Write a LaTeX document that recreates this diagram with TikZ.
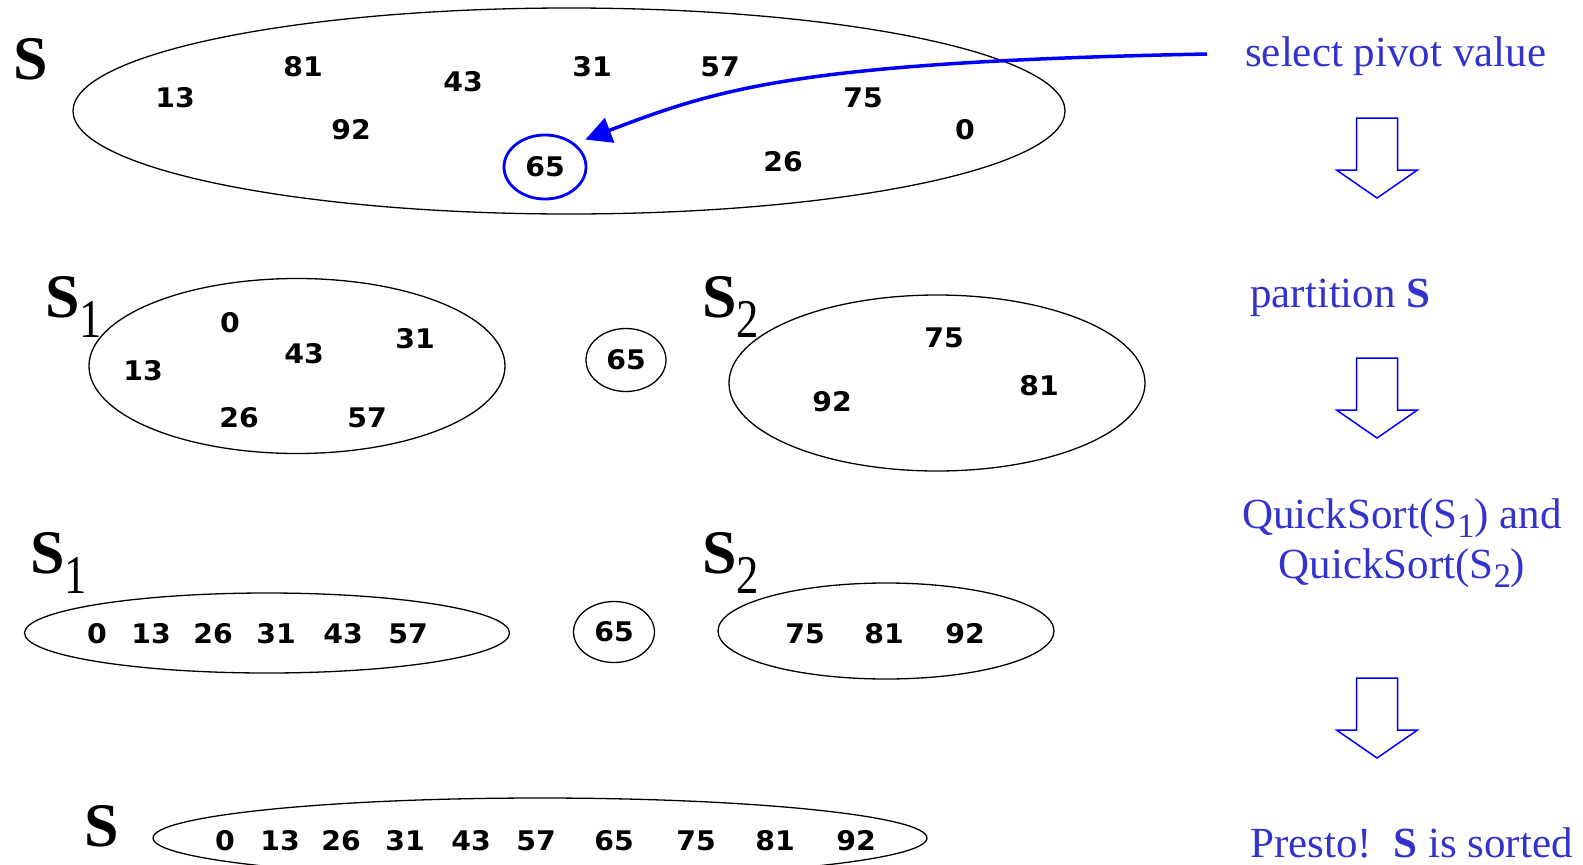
\documentclass[tikz,border=0pt]{standalone}
\usepackage{fontspec}
\setmainfont{Liberation Serif}
\newfontfamily\numfont[FakeStretch=1.05]{DejaVu Sans}
\usetikzlibrary{shapes.geometric,arrows.meta}
\definecolor{noteblue}{RGB}{51,51,204}
\definecolor{pivotblue}{RGB}{0,0,255}
% set name with lowered index, index in the picture is nearly as big as the S
\newcommand{\setsub}[1]{\textbf{S}\raisebox{-20pt}{\scalebox{0.72}[0.88]{#1}}}
% index in the blue notes
\newcommand{\notesub}[1]{\raisebox{-0.23em}{\scalebox{0.8}{#1}}}
\tikzset{
  bag/.style={draw, ellipse, line width=1.3pt, inner sep=0pt},
  num/.style={font=\numfont\bfseries\fontsize{27}{27}\selectfont, inner sep=0pt},
  setname/.style={anchor=base west, inner sep=0pt, font=\fontsize{62}{62}\selectfont},
  note/.style={anchor=base west, inner sep=0pt, text=noteblue, font=\fontsize{43}{50}\selectfont},
  hollow/.style={draw=pivotblue, line width=1.5pt, line join=miter}
}
\begin{document}
\begin{tikzpicture}[x=1pt, y=-1pt]
    \useasboundingbox (0,0) rectangle (1583,865);
    \clip (0,0) rectangle (1583,865);

    % Unsorted set S and the chosen pivot
    \node[bag, minimum width=992pt, minimum height=206pt] (setS) at (569,111) {};
    \node[setname] (lblS) at (13,79) {\textbf{S}};
    \foreach \v/\px/\py in {13/175/98, 81/303/67, 43/463/82, 31/592/67, 57/720/67,
                            75/863/98, 0/965/130, 92/351/130, 26/783/162}
        \node[num] (s-\v) at (\px,\py) {\v};
    \node[num, draw=pivotblue, ellipse, line width=2.8pt,
          minimum width=82pt, minimum height=64pt] (pivot) at (545,167) {65};

    % Pointer from the note to the pivot
    \coordinate (pickstart) at (1207,54);
    \draw[pivotblue, line width=3.5pt, shorten >=11pt, -{Triangle[length=26pt,width=26pt]}]
        (pickstart) .. controls (800,62) and (720,88) .. (pivot.38);

    % Partition into S1, pivot, S2
    \node[bag, minimum width=416pt, minimum height=175pt] (setA) at (297,366) {};
    \node[setname] (lblA) at (45,317) {\setsub{1}};
    \foreach \v/\px/\py in {0/230/323, 13/143/371, 43/304/354, 31/415/339, 26/239/418, 57/367/418}
        \node[num] (a-\v) at (\px,\py) {\v};
    \node[bag, num, minimum width=80pt, minimum height=63pt] (midA) at (626,360) {65};
    \node[bag, minimum width=416pt, minimum height=176pt] (setB) at (937,383) {};
    \node[setname] (lblB) at (702,317) {\setsub{2}};
    \foreach \v/\px/\py in {75/944/338, 92/832/402, 81/1039/386}
        \node[num] (b-\v) at (\px,\py) {\v};

    % Both halves sorted
    \node[bag, minimum width=485pt, minimum height=80pt] (sortA) at (267,633) {};
    \node[setname] (lblsA) at (30,573) {\setsub{1}};
    \foreach \v/\px in {0/97, 13/151, 26/213, 31/276, 43/343, 57/408}
        \node[num] (sa-\v) at (\px,634) {\v};
    \node[bag, num, minimum width=81pt, minimum height=61pt] (midB) at (614,632) {65};
    \node[bag, minimum width=336pt, minimum height=96pt] (sortB) at (886,631) {};
    \node[setname] (lblsB) at (702,573) {\setsub{2}};
    \foreach \v/\px in {75/805, 81/884, 92/965}
        \node[num] (sb-\v) at (\px,634) {\v};

    % Whole set sorted
    \node[bag, minimum width=774pt, minimum height=80pt] (sorted) at (540,838) {};
    \node[setname] (lblsorted) at (84,846) {\textbf{S}};
    \foreach \v/\px in {0/225, 13/280, 26/341, 31/405, 43/471, 57/536, 65/614, 75/696, 81/775, 92/856}
        \node[num] (t-\v) at (\px,841) {\v};

    % Notes on the right
    \node[note] (noteselect) at (1245,66) {select pivot value};
    \node[note] (notepart) at (1250,307) {partition \textbf{S}};
    \node[note, anchor=base] (noteqsa) at (1402,528) {QuickSort(S\notesub{1}) and};
    \node[note, anchor=base] (noteqsb) at (1402,578) {QuickSort(S\notesub{2})};
    \node[note] (notedone) at (1250,857) {Presto!\ \ \textbf{S} is sorted};

    % Hollow step arrows
    \foreach \t in {118,358,678}
        \draw[hollow] (1356.5,\t) -- (1397.5,\t) -- (1397.5,\t+52) -- (1417.5,\t+52)
            -- (1377,\t+80) -- (1336.5,\t+52) -- (1356.5,\t+52) -- cycle;
\end{tikzpicture}
\end{document}
